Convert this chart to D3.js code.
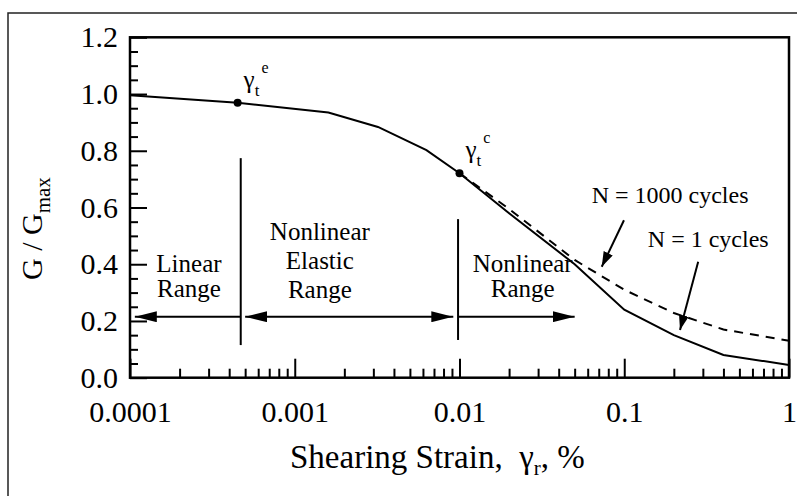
<!DOCTYPE html>
<html>
<head>
<meta charset="utf-8">
<script src="https://d3js.org/d3.v7.min.js"></script>
<style>
  body { margin: 0; background: #fff; }
  svg { display: block; font-family: "Liberation Serif", "Times New Roman", serif; }
</style>
</head>
<body>
<svg id="chart"></svg>
<script>
// G/Gmax vs shearing strain (log axis)

// axis ticks
const strainTicks = [0.0001, 0.001, 0.01, 0.1, 1];
const strainTickLabels = ['0.0001', '0.001', '0.01', '0.1', '1'];
const ratioTicks = [0, 0.2, 0.4, 0.6, 0.8, 1.0, 1.2];
const ratioTickLabels = ['0.0', '0.2', '0.4', '0.6', '0.8', '1.0', '1.2'];

// solid curve
const strainSolid = [0.0001, 0.00045, 0.0016, 0.0032, 0.0063, 0.01, 0.02, 0.05, 0.1, 0.2, 0.4, 1];
const ratioSolid = [0.996, 0.969, 0.935, 0.884, 0.802, 0.721, 0.58, 0.40, 0.24, 0.15, 0.08, 0.045];

// dashed curve
const strainDashed = [0.01, 0.02, 0.05, 0.1, 0.2, 0.4, 1];
const ratioDashed = [0.721, 0.595, 0.415, 0.31, 0.228, 0.17, 0.13];

// threshold strains (dots)
const thresholdStrain = [0.00045, 0.01];
const thresholdRatio = [0.969, 0.721];
const thresholdSup = ['e', 'c'];

const width = 797;
const height = 496;
const svg = d3.select('#chart').attr('width', width).attr('height', height);

const plotL = 130, plotR = 789, plotT = 37.3, plotB = 377.7;
const x = d3.scaleLog().domain([0.0001, 1]).range([plotL, plotR]);
const y = d3.scaleLinear().domain([0, 1.2]).range([plotB, plotT]);

// outer frame
svg.append('rect')
  .attr('x', 8).attr('y', 13)
  .attr('width', 820).attr('height', 520)
  .style('fill', 'none')
  .style('stroke', '#222')
  .style('stroke-width', 1.5);

// arrowhead markers
const defs = svg.append('defs');
function marker(id, len, half) {
  defs.append('marker')
    .attr('id', id)
    .attr('viewBox', `0 ${-half} ${len} ${2 * half}`)
    .attr('refX', len).attr('refY', 0)
    .attr('markerUnits', 'userSpaceOnUse')
    .attr('markerWidth', len).attr('markerHeight', 2 * half)
    .attr('orient', 'auto-start-reverse')
    .append('path')
    .attr('d', `M0,${-half}L${len},0L0,${half}Z`)
    .style('fill', '#000');
}
marker('headBig', 22, 5.5);
marker('headSmall', 15, 5);

// minor ticks
const minorX = [];
for (let e = -4; e < 0; e++) for (let m = 2; m <= 9; m++) minorX.push(m * Math.pow(10, e));
const minorY = d3.range(0, 1.2001, 0.05).filter((v) => Math.abs(v * 5 - Math.round(v * 5)) > 1e-6);

const gx = svg.append('g').attr('transform', `translate(0,${plotB})`);
gx.append('g')
  .call(d3.axisBottom(x).tickValues(minorX).tickSize(-9).tickFormat(''));
gx.append('g')
  .call(d3.axisBottom(x).tickValues(strainTicks).tickSize(-19).tickPadding(23)
    .tickFormat((d, i) => strainTickLabels[i]));

const gy = svg.append('g').attr('transform', `translate(${plotL},0)`);
gy.append('g')
  .call(d3.axisLeft(y).tickValues(minorY).tickSize(-8).tickFormat(''));
gy.append('g')
  .call(d3.axisLeft(y).tickValues(ratioTicks).tickSize(-17).tickPadding(12)
    .tickFormat((d, i) => ratioTickLabels[i]));

svg.selectAll('.domain').remove();
svg.selectAll('.tick line').style('stroke', '#000').style('stroke-width', 2);
svg.selectAll('.tick text')
  .style('font-family', '"Liberation Serif", serif')
  .style('font-size', '30px')
  .style('fill', '#000');

// plot frame
svg.append('rect')
  .attr('x', plotL).attr('y', plotT)
  .attr('width', plotR - plotL).attr('height', plotB - plotT)
  .style('fill', 'none')
  .style('stroke', '#000')
  .style('stroke-width', 2.5);

// curves
const line = d3.line().x((d) => x(d[0])).y((d) => y(d[1]));
svg.append('path')
  .datum(strainSolid.map((s, i) => [s, ratioSolid[i]]))
  .attr('d', line)
  .style('fill', 'none')
  .style('stroke', '#000')
  .style('stroke-width', 2);
svg.append('path')
  .datum(strainDashed.map((s, i) => [s, ratioDashed[i]]))
  .attr('d', line)
  .style('fill', 'none')
  .style('stroke', '#000')
  .style('stroke-width', 2)
  .style('stroke-dasharray', '9,7');

// threshold dots + labels
svg.selectAll('circle.thr')
  .data(thresholdStrain)
  .enter()
  .append('circle')
  .attr('class', 'thr')
  .attr('cx', (d) => x(d))
  .attr('cy', (d, i) => y(thresholdRatio[i]))
  .attr('r', 4)
  .style('fill', '#000');

const thrLabel = svg.selectAll('text.thr')
  .data(thresholdStrain)
  .enter()
  .append('text')
  .attr('class', 'thr')
  .attr('x', (d) => x(d) + 6)
  .attr('y', (d, i) => y(thresholdRatio[i]) - 15)
  .style('font-size', '25px')
  .style('fill', '#000');
thrLabel.append('tspan').text('γ');
thrLabel.append('tspan').attr('dy', 8).style('font-size', '17px').text('t');
thrLabel.append('tspan').attr('dy', -23).attr('dx', 2).style('font-size', '16px')
  .text((d, i) => thresholdSup[i]);

// range dividers
const dividers = [
  { s: 0.00047, r0: 0.115, r1: 0.774 },
  { s: 0.0098, r0: 0.133, r1: 0.559 }
];
svg.selectAll('line.div')
  .data(dividers)
  .enter()
  .append('line')
  .attr('x1', (d) => x(d.s)).attr('x2', (d) => x(d.s))
  .attr('y1', (d) => y(d.r0)).attr('y2', (d) => y(d.r1))
  .style('stroke', '#000')
  .style('stroke-width', 2);

// range arrows
const arrowR = 0.215;
const rangeArrows = [
  { s0: 0.00047, s1: 0.000107, start: false },
  { s0: 0.0005, s1: 0.00917, start: true },
  { s0: 0.0098, s1: 0.05, start: false }
];
svg.selectAll('line.rng')
  .data(rangeArrows)
  .enter()
  .append('line')
  .attr('x1', (d) => x(d.s0)).attr('x2', (d) => x(d.s1))
  .attr('y1', y(arrowR)).attr('y2', y(arrowR))
  .attr('marker-end', 'url(#headBig)')
  .attr('marker-start', (d) => (d.start ? 'url(#headBig)' : null))
  .style('stroke', '#000')
  .style('stroke-width', 2);

// range labels
const rangeLabels = [
  { s: 0.000228, r: 0.373, lines: ['Linear', 'Range'] },
  { s: 0.00142, r: 0.485, lines: ['Nonlinear', 'Elastic', 'Range'] },
  { s: 0.0242, r: 0.373, lines: ['Nonlinear', 'Range'] }
];
rangeLabels.forEach((lab) => {
  svg.append('g')
    .selectAll('text')
    .data(lab.lines)
    .enter()
    .append('text')
    .attr('x', x(lab.s))
    .attr('y', (d, i) => y(lab.r) + i * (lab.lines.length === 3 ? 29 : 25))
    .attr('text-anchor', 'middle')
    .style('font-size', '25px')
    .style('fill', '#000')
    .text((d) => d);
});

// cycle callouts
const callouts = [
  { text: 'N = 1000 cycles', ts: 0.0634, tr: 0.615, s0: 0.0996, r0: 0.555, s1: 0.073, r1: 0.391 },
  { text: 'N = 1 cycles', ts: 0.139, tr: 0.46, s0: 0.281, r0: 0.409, s1: 0.218, r1: 0.168 }
];
svg.selectAll('text.call')
  .data(callouts)
  .enter()
  .append('text')
  .attr('class', 'call')
  .attr('x', (d) => x(d.ts))
  .attr('y', (d) => y(d.tr))
  .style('font-size', '24px')
  .style('fill', '#000')
  .text((d) => d.text);
svg.selectAll('line.call')
  .data(callouts)
  .enter()
  .append('line')
  .attr('x1', (d) => x(d.s0)).attr('y1', (d) => y(d.r0))
  .attr('x2', (d) => x(d.s1)).attr('y2', (d) => y(d.r1))
  .attr('marker-end', 'url(#headSmall)')
  .style('stroke', '#000')
  .style('stroke-width', 2);

// axis titles
const xTitle = svg.append('text')
  .attr('x', 290).attr('y', 468)
  .style('font-size', '33px')
  .style('fill', '#000');
xTitle.append('tspan').text('Shearing Strain,\u00a0 γ');
xTitle.append('tspan').attr('dy', 7).style('font-size', '21px').text('r');
xTitle.append('tspan').attr('dy', -7).text(', %');

const yTitle = svg.append('text')
  .attr('transform', 'translate(42,280) rotate(-90)')
  .style('font-size', '30px')
  .style('fill', '#000');
yTitle.append('tspan').text('G / G');
yTitle.append('tspan').attr('dy', 8).style('font-size', '21px').text('max');
</script>
</body>
</html>
